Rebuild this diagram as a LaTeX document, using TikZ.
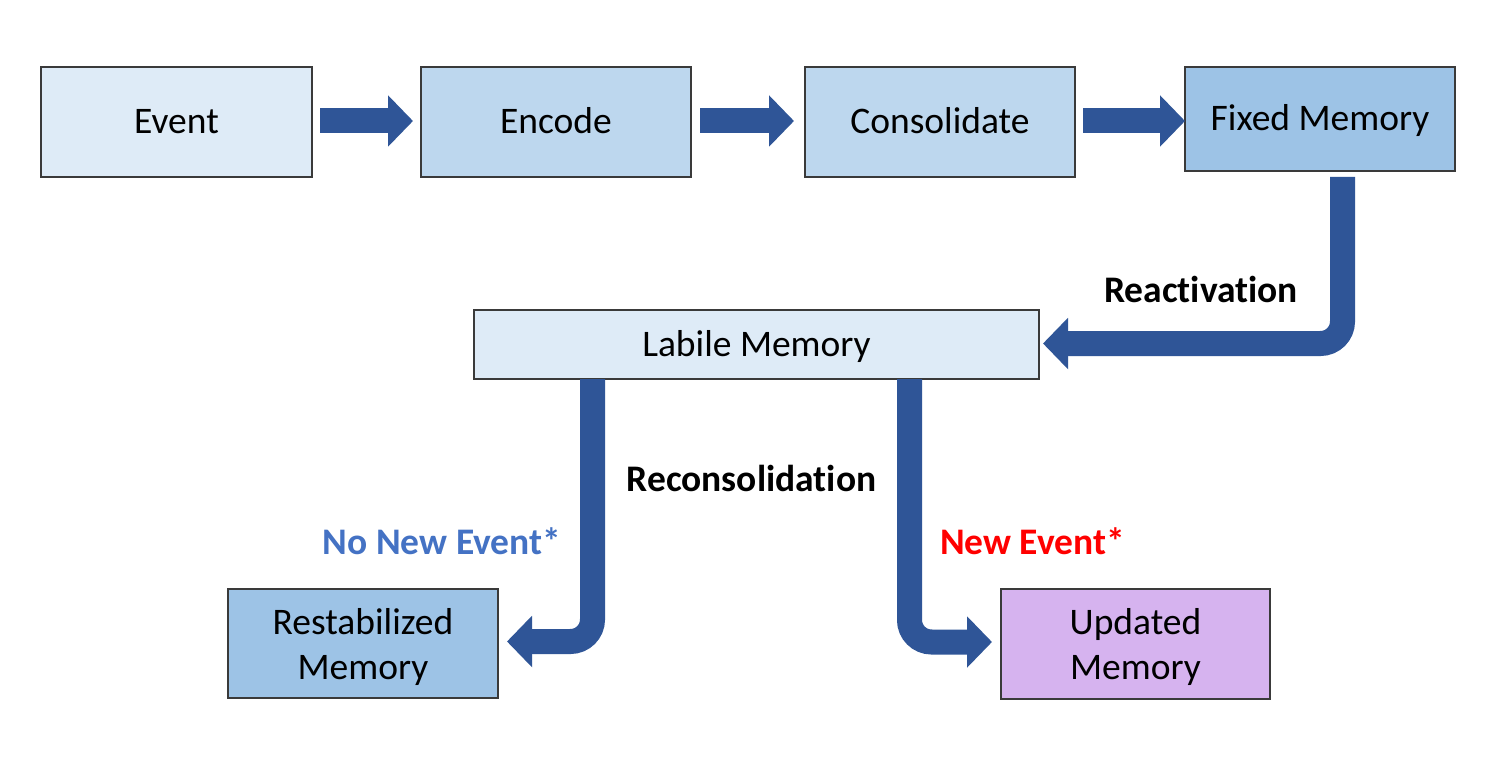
\documentclass[tikz,border=0pt]{standalone}
\usepackage{fontspec}
\setmainfont[Ligatures=NoCommon]{Carlito}
\usetikzlibrary{arrows.meta,calc}
\definecolor{fillA}{HTML}{DEEBF7}
\definecolor{fillB}{HTML}{BDD7EE}
\definecolor{fillC}{HTML}{9DC3E6}
\definecolor{fillD}{HTML}{D6B3EF}
\definecolor{arrowblue}{HTML}{2F5597}
\definecolor{edgegray}{HTML}{3A3A3A}
\definecolor{noblue}{HTML}{4472C4}
\definecolor{newred}{HTML}{FF0000}
\tikzset{
  box/.style={draw=edgegray, line width=1.2pt, inner sep=0pt, outer sep=0pt,
    align=center, font=\fontsize{37.5}{45}\selectfont, text=black, text depth=0pt},
  oneline/.style={text height=24pt},
  bigarrow/.style={draw=arrowblue, line width=25pt,
    -{Triangle[length=25pt,width=50pt]}},
  lbl/.style={font=\fontsize{37.5}{45}\selectfont\bfseries, inner sep=0pt},
}
\begin{document}
\begin{tikzpicture}[x=1pt,y=-1pt]
\useasboundingbox[fill=white] (0,0) rectangle (1500,770);
\node[box, oneline, fill=fillA, minimum width=271pt, minimum height=110pt] (event) at (176.5,122) {Event};
\node[box, oneline, fill=fillB, minimum width=270pt, minimum height=110pt] (encode) at (556,122) {Encode};
\node[box, oneline, fill=fillB, minimum width=270pt, minimum height=110pt] (consol) at (940,122) {Consolidate};
\node[box, oneline, fill=fillC, minimum width=270pt, minimum height=104pt] (fixed) at (1320,119) {Fixed Memory};
\node[box, oneline, fill=fillA, minimum width=565pt, minimum height=69pt] (labile) at (756.5,344.5) {Labile Memory};
\node[box, fill=fillC, minimum width=270pt, minimum height=109pt] (restab) at (363,643.5) {Restabilized\\Memory};
\node[box, fill=fillD, minimum width=269pt, minimum height=110pt] (updated) at (1135.5,644) {Updated\\Memory};

\draw[bigarrow] ([xshift=8pt,yshift=1pt]event.east) -- ([xshift=-8pt,yshift=1pt]encode.west);
\draw[bigarrow] ([xshift=9pt,yshift=1pt]encode.east) -- ([xshift=-11pt,yshift=1pt]consol.west);
\draw[bigarrow] ([xshift=8pt,yshift=1pt]consol.east) -- ([xshift=110pt,yshift=1pt]consol.east);

\draw[bigarrow, rounded corners=22pt] ([xshift=22.5pt,yshift=-6pt]fixed.south) |- ([xshift=4pt,yshift=1pt]labile.east);
\draw[bigarrow, rounded corners=22pt] ([xshift=-164pt]labile.south) |- ([xshift=9pt,yshift=2pt]restab.east);
\draw[bigarrow, rounded corners=22pt] ([xshift=153pt]labile.south) |- ([xshift=-9pt,yshift=2pt]updated.west);

\node[lbl] (react) at (1201,289) {Reactivation};
\node[lbl] (recon) at (751.5,478) {Reconsolidation};
\node[lbl, text=noblue] (nonew) at (442,541) {No New Event*};
\node[lbl, text=newred] (newev) at (1032.5,541) {New Event*};
\end{tikzpicture}
\end{document}
